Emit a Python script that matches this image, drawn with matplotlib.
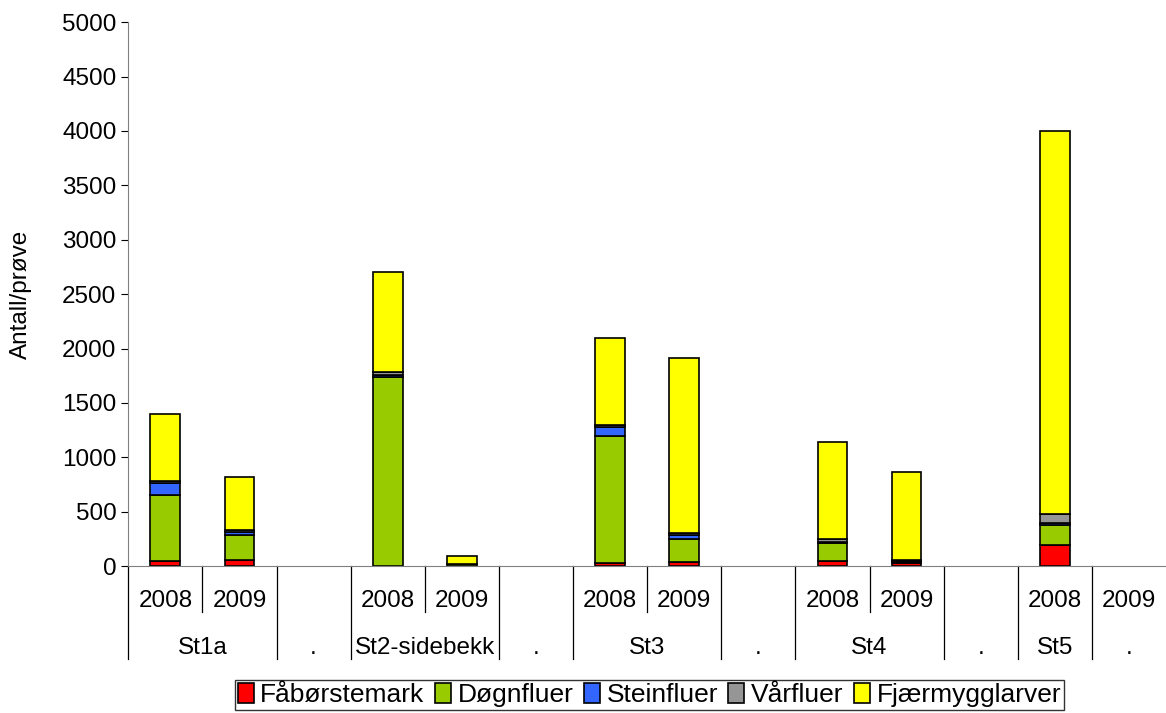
import numpy as np
import matplotlib
matplotlib.use("Agg")
import matplotlib.pyplot as plt
from matplotlib.transforms import blended_transform_factory
from matplotlib.lines import Line2D

plt.rcParams['font.family'] = ['Liberation Sans', 'DejaVu Sans']

# one slot per x position
year_labels = ['2008', '2009', '', '2008', '2009', '', '2008', '2009', '',
               '2008', '2009', '', '2008', '2009']
group_labels = ['St1a', '.', 'St2-sidebekk', '.', 'St3', '.', 'St4', '.', 'St5', '.']
group_sizes = [2, 1, 2, 1, 2, 1, 2, 1, 1, 1]

series_names = ['Fåbørstemark', 'Døgnfluer', 'Steinfluer', 'Vårfluer', 'Fjærmygglarver']
colors = ['#FF0000', '#99CC00', '#3366FF', '#969696', '#FFFF00']

faabørstemark = [45, 55, 0, 0, 5, 0, 30, 35, 0, 45, 25, 0, 190, 0]
dognfluer = [605, 235, 0, 1735, 10, 0, 1170, 210, 0, 165, 15, 0, 190, 0]
steinfluer = [115, 25, 0, 25, 0, 0, 80, 40, 0, 10, 5, 0, 20, 0]
varfluer = [15, 15, 0, 25, 0, 0, 15, 20, 0, 25, 15, 0, 75, 0]
fjaermygg = [620, 490, 0, 915, 75, 0, 805, 1605, 0, 895, 805, 0, 3525, 0]

data = [faabørstemark, dognfluer, steinfluer, varfluer, fjaermygg]

fig = plt.figure(figsize=(11.66, 7.13), dpi=100)
ax = fig.add_axes([0.11, 0.206, 0.89, 0.763])

x = np.arange(len(year_labels))
bottom = np.zeros(len(x))
for name, vals, c in zip(series_names, data, colors):
    vals = np.array(vals, dtype=float)
    keep = vals > 0
    ax.bar(x[keep], vals[keep], width=0.4, bottom=bottom[keep], color=c,
           edgecolor='black', linewidth=1.2, label=name)
    bottom += vals

ax.set_xlim(-0.5, len(x) - 0.5)
ax.set_ylim(0, 5000)
ax.set_yticks(np.arange(0, 5001, 500))
ax.tick_params(axis='y', labelsize=17.5, direction='out', length=5)
ax.set_xticks([])
ax.set_ylabel('Antall/prøve', fontsize=17.5, labelpad=22)
for s in ['top', 'right']:
    ax.spines[s].set_visible(False)
ax.spines['left'].set_color('#808080')
ax.spines['bottom'].set_color('#808080')

trans = blended_transform_factory(ax.transData, ax.transAxes)

# year row
for i, lab in enumerate(year_labels):
    ax.text(i, -0.064, lab, transform=trans, ha='center', va='center', fontsize=17.5)

# station row and separators
start = 0
ax.add_line(Line2D([-0.5, -0.5], [0, -0.17], transform=trans, color='black',
                   lw=0.9, clip_on=False))
for lab, n in zip(group_labels, group_sizes):
    center = start + (n - 1) / 2
    ax.text(center, -0.15, lab, transform=trans, ha='center', va='center', fontsize=17.5)
    if n == 2:
        ax.add_line(Line2D([start + 0.5] * 2, [0, -0.085], transform=trans,
                           color='black', lw=0.9, clip_on=False))
    end = start + n - 0.5
    if end < len(x) - 0.5:
        ax.add_line(Line2D([end, end], [0, -0.17], transform=trans, color='black',
                           lw=0.9, clip_on=False))
    start += n

leg = fig.legend(loc='lower center', bbox_to_anchor=(0.557, 0.0), ncol=5,
                 fontsize=19, frameon=True, fancybox=False, edgecolor='black',
                 handlelength=0.6, handleheight=0.8, handletextpad=0.25,
                 columnspacing=0.4, borderpad=0.12, borderaxespad=0.1)
leg.get_frame().set_linewidth(1.0)

fig.savefig('out.png', dpi=100)
